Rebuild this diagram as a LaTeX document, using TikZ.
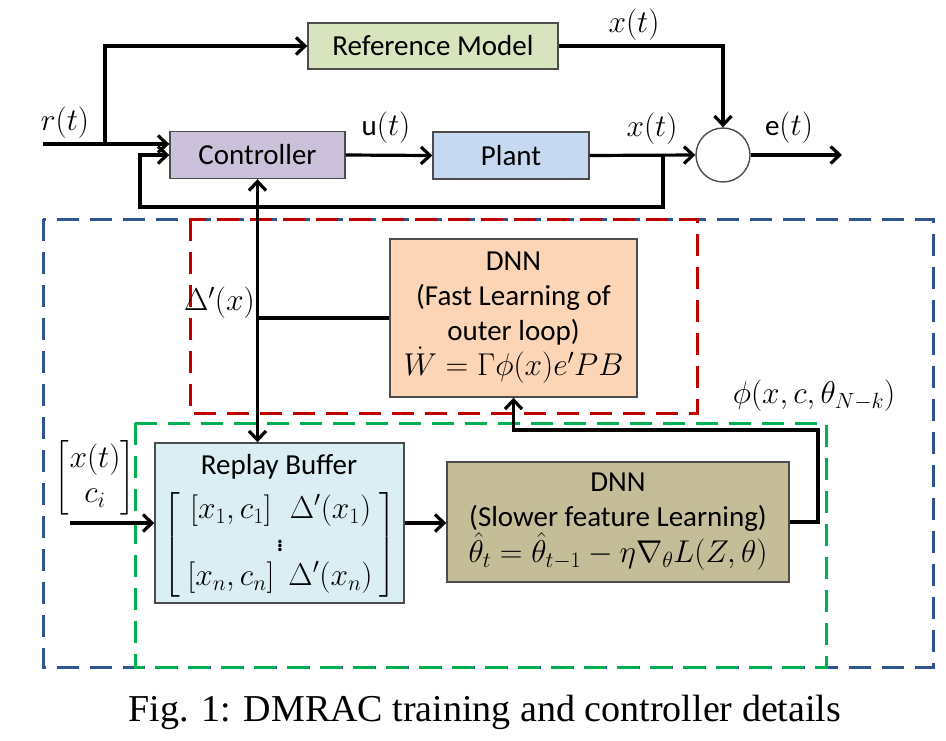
\documentclass[tikz,border=0pt]{standalone}
\usepackage{fix-cm}
\usepackage{amsmath}
\usepackage{fontspec}
\setmainfont{Carlito}
\newfontfamily\capfont{Liberation Serif}
\DeclareMathSizes{29}{31.5}{22}{17}
\usetikzlibrary{arrows.meta}
\definecolor{refg}{HTML}{D7E4BD}
\definecolor{ctrlc}{HTML}{CCC1DA}
\definecolor{plantc}{HTML}{C6D9F1}
\definecolor{dnnorange}{HTML}{FBD5B5}
\definecolor{bufc}{HTML}{DBEEF4}
\definecolor{olivec}{HTML}{C4BD97}
\definecolor{dblue}{HTML}{2F5590}
\definecolor{dred}{HTML}{C00000}
\definecolor{dgreen}{HTML}{00B050}
\begin{document}
\begin{tikzpicture}[x=1pt,y=-1pt,
  every node/.style={font=\fontsize{29}{35}\selectfont},
  conn/.style={line width=3.2pt},
  >={Straight Barb[length=9pt,width=17pt]},
  blk/.style={draw=black!70, line width=1.4pt, inner sep=0pt, align=center},
  dashbox/.style={line width=3pt, dash pattern=on 22pt off 11pt},
  lbl/.style={inner sep=0pt}]
\useasboundingbox (0,0) rectangle (946,740);

% dashed regions
\draw[dashbox, dblue] (43,219) rectangle (933,667);
\draw[dashbox, dred] (190,219) rectangle (697,413);
\draw[dashbox, dgreen] (135,423) rectangle (826,667);

% blocks
\node[blk, fill=refg, minimum width=250pt, minimum height=46pt] (ref) at (433,46) {Reference Model};
\node[blk, fill=ctrlc, minimum width=175pt, minimum height=47pt] (ctrl) at (257.5,155) {Controller};
\node[blk, fill=plantc, minimum width=156pt, minimum height=47pt] (plant) at (511,155.5) {Plant};
\node[draw=black!70, line width=1.4pt, circle, minimum size=54pt, inner sep=0pt] (sum) at (723,155) {};
\node[blk, fill=dnnorange, minimum width=247pt, minimum height=158pt] (dnn1) at (513.5,318)
  {DNN\\(Fast Learning of\\outer loop)\\$\dot{W}=\Gamma\phi(x)e'PB$};
\node[blk, fill=bufc, minimum width=249pt, minimum height=160pt] (buf) at (279.5,523) {};
\node[lbl] (buftitle) at (279,467) {Replay Buffer};
\node[lbl] (bufmat) at (280,545) {$\renewcommand{\arraystretch}{0.95}\setlength{\arraycolsep}{7pt}\left[\begin{array}{cc}[x_1,c_1] & \Delta'(x_1)\\ \multicolumn{2}{c}{\vdots}\\ {}[x_n,c_n] & \Delta'(x_n)\end{array}\right]$};
\node[blk, fill=olivec, minimum width=342pt, minimum height=120pt] (dnn2) at (618,522)
  {DNN\\(Slower feature Learning)\\$\hat{\theta}_t=\hat{\theta}_{t-1}-\eta\nabla_{\theta}L(Z,\theta)$};

% labels
\node[lbl] (lr) at (65,123) {$r(t)$};
\node[lbl] (lu) at (386,128) {u$(t)$};
\node[lbl] (lx1) at (634,25) {$x(t)$};
\node[lbl] (lx2) at (652,129) {$x(t)$};
\node[lbl] (le) at (789,128) {e$(t)$};
\node[lbl, anchor=east] (ldelta) at (255,303) {$\Delta'(x)$};
\node[lbl] (lphi) at (814,396) {$\phi(x,c,\theta_{N-k})$};
\node[lbl] (lvec) at (95,478) {$\begin{bmatrix}x(t)\\ c_i\end{bmatrix}$};

% coordinates
\coordinate (rin) at (43,144);
\coordinate (rbr) at (105,144);
\coordinate (eout) at (842,155);
\coordinate (fbx) at (663,155);
\coordinate (fb2) at (140,207);
\coordinate (fa) at (818,430);
\coordinate (vin) at (70,523);

% connectors
\draw[conn,->] (rin) -- (rin -| ctrl.west);
\draw[conn,->] (rbr) |- (ref.west);
\draw[conn,->] (ref.east) -| (sum.north);
\draw[conn,->] (ctrl.east) -- (plant.west);
\draw[conn,->] (plant.east) -- (sum.west);
\draw[conn,->] (sum.east) -- (eout);
\draw[conn,->] (fbx) |- (fb2) |- (ctrl.west);
\draw[conn,<->] (ctrl.south) -- (ctrl.south |- buf.north);
\draw[conn] (ctrl.south |- dnn1.west) -- (dnn1.west);
\draw[conn,->] (dnn2.east) -| (fa) -| (dnn1.south);
\draw[conn,->] (vin) -- (buf.west);
\draw[conn,->] (buf.east) -- (dnn2.west |- buf.east);

% caption
\node[lbl, font=\capfont\fontsize{38}{44}\selectfont] (cap) at (485,712) {Fig. 1: DMRAC training and controller details};
\end{tikzpicture}
\end{document}
